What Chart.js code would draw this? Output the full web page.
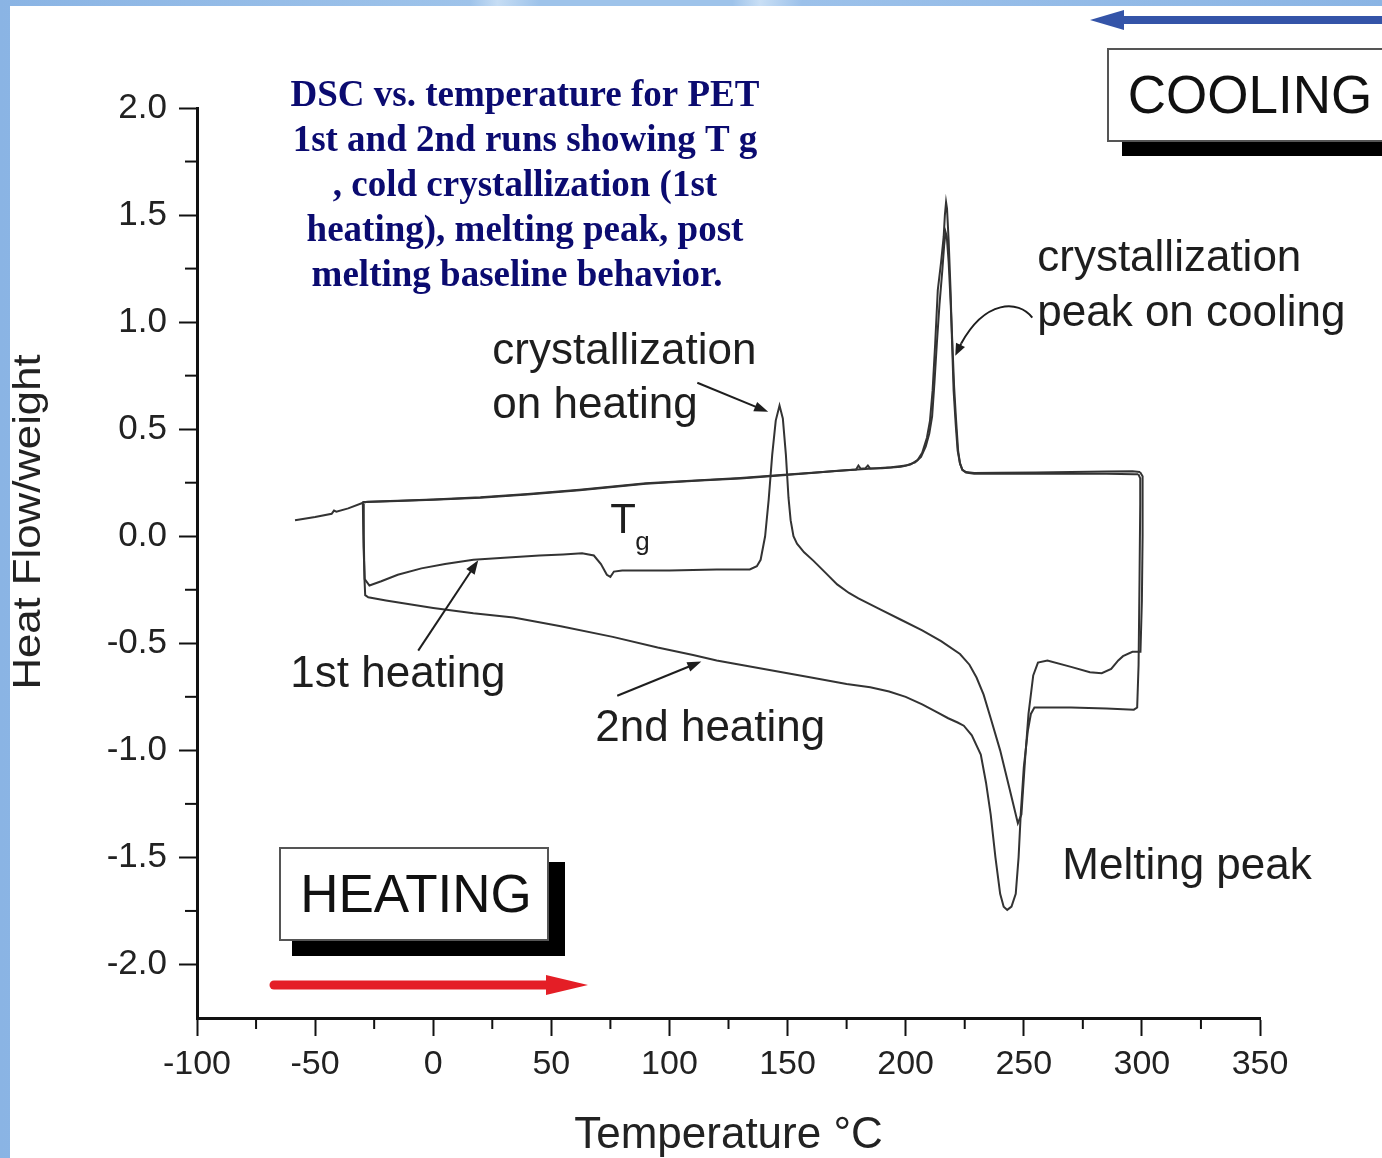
<!DOCTYPE html>
<html>
<head>
<meta charset="utf-8">
<script src="https://cdn.jsdelivr.net/npm/chart.js@4.4.0/dist/chart.umd.min.js"></script>
<style>
  html, body { margin: 0; padding: 0; }
  body {
    width: 1382px; height: 1158px; position: relative; overflow: hidden;
    background: linear-gradient(90deg, #8ab4e4 0%, #9ec3ea 34%, #c6ddf4 36%, #9ec3ea 39%, #9ec3ea 53%, #c9dff5 55%, #9cc1ea 58%, #8ab4e4 100%);
  }
  #sheet { position: absolute; left: 10px; top: 6px; right: 0; bottom: 0; background: #fff; }
  #chart { position: absolute; left: 0; top: 0; }
</style>
</head>
<body>
<div id="sheet"></div>
<canvas id="chart" width="1382" height="1158"></canvas>
<script>
// tick labels
const xTicks = [-100, -50, 0, 50, 100, 150, 200, 250, 300, 350];
const yTicks = [-2.0, -1.5, -1.0, -0.5, 0.0, 0.5, 1.0, 1.5, 2.0];

// 1st heating
const heat1Temp = [-29.8, -29.5, -29.0, -27, -22, -15, -5, 5, 17, 30, 45, 55, 63, 68, 71, 73.5, 75, 76.5, 80, 100, 120, 134, 137, 138.6,
  140.5, 142, 143.5, 145, 146.6, 148, 149.3, 150.4, 151.3, 152.5, 154, 157, 161, 166, 171, 176, 180, 189, 198, 207, 215, 223,
  227, 230, 233, 236, 240, 244, 247.5, 249, 250.5, 252, 254, 256, 260, 270, 278, 283, 287, 290, 292, 296, 299.4, 300, 300.3, 300.4, 300.2, 299.2];
const heat1Flow = [0.16, -0.05, -0.20, -0.23, -0.21, -0.18, -0.15, -0.13, -0.11, -0.10, -0.09, -0.085, -0.08, -0.09, -0.13, -0.18, -0.19, -0.165, -0.16, -0.16, -0.155, -0.155, -0.14, -0.11,
  0.0, 0.17, 0.38, 0.54, 0.61, 0.55, 0.38, 0.18, 0.075, 0.0, -0.035, -0.075, -0.115, -0.17, -0.225, -0.265, -0.29, -0.34, -0.39, -0.44, -0.49, -0.55,
  -0.60, -0.66, -0.74, -0.85, -1.0, -1.18, -1.34, -1.30, -1.05, -0.83, -0.65, -0.59, -0.58, -0.61, -0.635, -0.64, -0.62, -0.58, -0.56, -0.54, -0.54, -0.3, 0.0, 0.22, 0.28, 0.30];

// 1st cooling
const cool1Temp = [299.2, 296, 285, 270, 255, 240, 229, 225.5, 224, 223, 222, 221.2, 220.3, 219.6, 219, 218.2, 217.5, 217.1, 216.6, 216.1, 215,
  213.6, 212.5, 211.4, 210.3, 209, 207, 205, 202, 198, 190, 185, 184, 183, 181, 180, 179, 170, 160, 148, 130, 113, 90, 62, 40, 20, 0, -15, -28, -30];
const cool1Flow = [0.30, 0.303, 0.302, 0.300, 0.298, 0.296, 0.295, 0.300, 0.31, 0.34, 0.40, 0.52, 0.68, 0.92, 1.15, 1.38, 1.53, 1.56, 1.50, 1.40, 1.28,
  1.15, 0.90, 0.68, 0.54, 0.46, 0.39, 0.355, 0.335, 0.325, 0.318, 0.316, 0.33, 0.318, 0.315, 0.33, 0.312, 0.305, 0.295, 0.285, 0.27, 0.26, 0.245, 0.215, 0.195, 0.18, 0.17, 0.165, 0.16, 0.16];

// 2nd heating
const heat2Temp = [-29.6, -29.4, -29.1, -28.8, -27.5, -20, -10, 0, 17, 34, 54, 76, 95, 110, 120, 140, 160, 175, 185, 193, 200, 207, 213, 218, 222, 224.6,
  228, 231.8, 234, 236, 238, 240, 241.5, 243, 244.8, 246.6, 247.8, 248.7, 250, 251.7, 253, 254.5, 261, 270, 285, 296.6, 298, 298.6, 299, 299.3, 299.3, 298.5];
const heat2Flow = [0.15, 0.0, -0.2, -0.275, -0.285, -0.30, -0.318, -0.335, -0.36, -0.38, -0.42, -0.47, -0.52, -0.555, -0.58, -0.62, -0.66, -0.69, -0.705, -0.725, -0.75, -0.785, -0.82, -0.85, -0.87, -0.885,
  -0.93, -1.02, -1.15, -1.30, -1.50, -1.67, -1.73, -1.745, -1.73, -1.67, -1.50, -1.30, -1.08, -0.91, -0.83, -0.80, -0.80, -0.80, -0.805, -0.81, -0.80, -0.60, -0.2, 0.15, 0.27, 0.29];

// 2nd cooling
const cool2Temp = [298.5, 297, 285, 270, 255, 240, 229, 225.5, 224, 223, 222.2, 221.3, 220.5, 219.7, 219, 218.2, 217.4, 216.9, 216.3, 215.5, 214.3,
  213.2, 212.2, 211.2, 210, 208.5, 206.5, 204, 200, 194, 186, 175, 165, 150, 130, 113, 90, 62, 40, 20, 0, -15, -28, -30, -36, -41, -42, -43, -50, -58.5];
const cool2Flow = [0.29, 0.29, 0.292, 0.292, 0.292, 0.292, 0.292, 0.298, 0.31, 0.34, 0.40, 0.55, 0.70, 0.92, 1.10, 1.28, 1.40, 1.42, 1.36, 1.24, 1.08,
  0.90, 0.72, 0.56, 0.48, 0.42, 0.37, 0.345, 0.33, 0.322, 0.316, 0.308, 0.30, 0.288, 0.272, 0.262, 0.247, 0.217, 0.197, 0.182, 0.172, 0.166, 0.161, 0.155, 0.13, 0.115, 0.12, 0.105, 0.09, 0.075];

function pts(temp, flow) {
  return temp.map((t, i) => ({ x: t, y: flow[i] }));
}

const SANS = '"Liberation Sans", Arial, sans-serif';
const SERIF = '"Liberation Serif", "Times New Roman", serif';
const INK = '#1e1e1e';

function arrow(ctx, x1, y1, x2, y2, len, half, color, width) {
  const a = Math.atan2(y2 - y1, x2 - x1);
  ctx.strokeStyle = color; ctx.fillStyle = color; ctx.lineWidth = width;
  ctx.beginPath();
  ctx.moveTo(x1, y1);
  ctx.lineTo(x2 - Math.cos(a) * len * 0.8, y2 - Math.sin(a) * len * 0.8);
  ctx.stroke();
  ctx.beginPath();
  ctx.moveTo(x2, y2);
  ctx.lineTo(x2 - Math.cos(a) * len - Math.sin(a) * half, y2 - Math.sin(a) * len + Math.cos(a) * half);
  ctx.lineTo(x2 - Math.cos(a) * len + Math.sin(a) * half, y2 - Math.sin(a) * len - Math.cos(a) * half);
  ctx.closePath();
  ctx.fill();
}

const decorations = {
  id: 'decorations',
  afterDraw(chart) {
    const { ctx, scales: { x, y } } = chart;
    const X = v => x.getPixelForValue(v);
    const Y = v => y.getPixelForValue(v);
    ctx.save();

    // minor ticks half way between the labelled ones
    ctx.strokeStyle = '#111'; ctx.lineWidth = 2;
    for (let i = 0; i < xTicks.length - 1; i++) {
      const p = X((xTicks[i] + xTicks[i + 1]) / 2);
      ctx.beginPath(); ctx.moveTo(p, y.bottom); ctx.lineTo(p, y.bottom + 11); ctx.stroke();
    }
    for (let i = 0; i < yTicks.length - 1; i++) {
      const p = Y((yTicks[i] + yTicks[i + 1]) / 2);
      ctx.beginPath(); ctx.moveTo(x.left, p); ctx.lineTo(x.left - 12, p); ctx.stroke();
    }

    // y axis title, stretched along its baseline like the original
    ctx.save();
    ctx.translate(30, 522);
    ctx.rotate(-Math.PI / 2);
    ctx.scale(1.15, 1);
    ctx.fillStyle = '#222'; ctx.font = '38px ' + SANS;
    ctx.textAlign = 'center'; ctx.textBaseline = 'middle';
    ctx.fillText('Heat Flow/weight', 0, 0);
    ctx.restore();

    // labels inside the plot
    ctx.fillStyle = INK; ctx.textAlign = 'left'; ctx.textBaseline = 'alphabetic';
    ctx.font = '44px ' + SANS;
    ctx.fillText('crystallization', X(25), Y(0.806));
    ctx.fillText('on heating', X(25), Y(0.553));
    ctx.fillText('crystallization', X(255.7), Y(1.237));
    ctx.fillText('peak on cooling', X(255.7), Y(0.984));
    ctx.fillText('1st heating', X(-60.5), Y(-0.703));
    ctx.fillText('2nd heating', X(68.6), Y(-0.955));
    ctx.fillText('Melting peak', X(266.3), Y(-1.602));
    ctx.font = '42px ' + SANS;
    ctx.fillText('T', X(74.9), Y(0.014));
    ctx.font = '26px ' + SANS;
    ctx.fillText('g', X(85.5), Y(-0.066));

    arrow(ctx, X(111.8), Y(0.717), X(141.8), Y(0.581), 14, 5, INK, 2);
    arrow(ctx, X(-6.35), Y(-0.534), X(19.05), Y(-0.112), 14, 5, INK, 2);
    arrow(ctx, X(77.9), Y(-0.745), X(113.5), Y(-0.585), 14, 5, INK, 2);

    // curved pointer to the cooling peak
    ctx.strokeStyle = INK; ctx.lineWidth = 2;
    ctx.beginPath();
    ctx.moveTo(X(253.6), Y(1.021));
    ctx.bezierCurveTo(X(247.7), Y(1.105), X(233.7), Y(1.105), X(223.5), Y(0.90));
    ctx.stroke();
    arrow(ctx, X(223.5), Y(0.90), X(221), Y(0.843), 12, 5, INK, 2);

    // HEATING box
    ctx.fillStyle = '#000';
    ctx.fillRect(292, 862, 273, 94);
    ctx.fillStyle = '#fff';
    ctx.fillRect(279, 847, 270, 94);
    ctx.strokeStyle = '#555'; ctx.lineWidth = 2;
    ctx.strokeRect(280, 848, 268, 92);
    ctx.fillStyle = '#111'; ctx.font = '53px ' + SANS; ctx.textAlign = 'center';
    ctx.fillText('HEATING', 416, 912);

    // red arrow
    ctx.lineCap = 'round';
    arrow(ctx, 274, 985, 588, 985, 42, 10, '#e41e26', 9);

    // COOLING box
    ctx.lineCap = 'butt';
    ctx.fillStyle = '#000';
    ctx.fillRect(1122, 60, 260, 96);
    ctx.fillStyle = '#fff';
    ctx.fillRect(1107, 48, 275, 94);
    ctx.strokeStyle = '#555'; ctx.lineWidth = 2;
    ctx.beginPath();
    ctx.moveTo(1383, 49); ctx.lineTo(1108, 49); ctx.lineTo(1108, 141); ctx.lineTo(1383, 141);
    ctx.stroke();
    ctx.fillStyle = '#111';
    ctx.fillText('COOLING', 1250, 113);

    // blue arrow
    arrow(ctx, 1385, 20, 1090, 20, 34, 10, '#3454a8', 8);

    // title
    ctx.fillStyle = '#0b0b70'; ctx.font = 'bold 37px ' + SERIF; ctx.textAlign = 'center';
    ctx.fillText('DSC vs. temperature for PET', 525, 106);
    ctx.fillText('1st and 2nd runs showing T g', 525, 151);
    ctx.fillText(', cold crystallization (1st', 525, 196);
    ctx.fillText('heating), melting peak, post', 525, 241);
    ctx.fillText('melting baseline behavior.', 517, 286);

    ctx.restore();
  }
};

const line = { borderColor: '#333', borderWidth: 2, pointRadius: 0, tension: 0, fill: false };

new Chart(document.getElementById('chart'), {
  type: 'line',
  data: {
    datasets: [
      { label: '1st heating', data: pts(heat1Temp, heat1Flow), ...line },
      { label: 'cooling 1', data: pts(cool1Temp, cool1Flow), ...line },
      { label: '2nd heating', data: pts(heat2Temp, heat2Flow), ...line },
      { label: 'cooling 2', data: pts(cool2Temp, cool2Flow), ...line }
    ]
  },
  options: {
    responsive: false,
    animation: false,
    layout: { padding: { left: 0, right: 122, top: 108, bottom: 0 } },
    plugins: { legend: { display: false }, tooltip: { enabled: false } },
    scales: {
      x: {
        type: 'linear',
        min: -100, max: 350,
        afterFit: s => { s.height = 140; },
        afterBuildTicks: s => { s.ticks = xTicks.map(v => ({ value: v })); },
        border: { display: true, color: '#111', width: 3 },
        grid: { drawOnChartArea: false, drawTicks: true, tickLength: 18, tickWidth: 2, tickColor: '#111' },
        ticks: { color: '#222', padding: 8, font: { family: SANS, size: 34 }, callback: v => String(v), maxRotation: 0 },
        title: { display: true, text: 'Temperature °C', color: '#222', font: { family: SANS, size: 44, lineHeight: 1 }, padding: 0 }
      },
      y: {
        type: 'linear',
        min: -2.25, max: 2.0,
        afterFit: s => { s.width = 197; },
        afterBuildTicks: s => { s.ticks = yTicks.map(v => ({ value: v })); },
        border: { display: true, color: '#111', width: 3 },
        grid: { drawOnChartArea: false, drawTicks: true, tickLength: 18, tickWidth: 2, tickColor: '#111' },
        ticks: { color: '#222', padding: 12, font: { family: SANS, size: 35 }, callback: v => Number(v).toFixed(1) },
        title: { display: false }
      }
    }
  },
  plugins: [decorations]
});
</script>
</body>
</html>
